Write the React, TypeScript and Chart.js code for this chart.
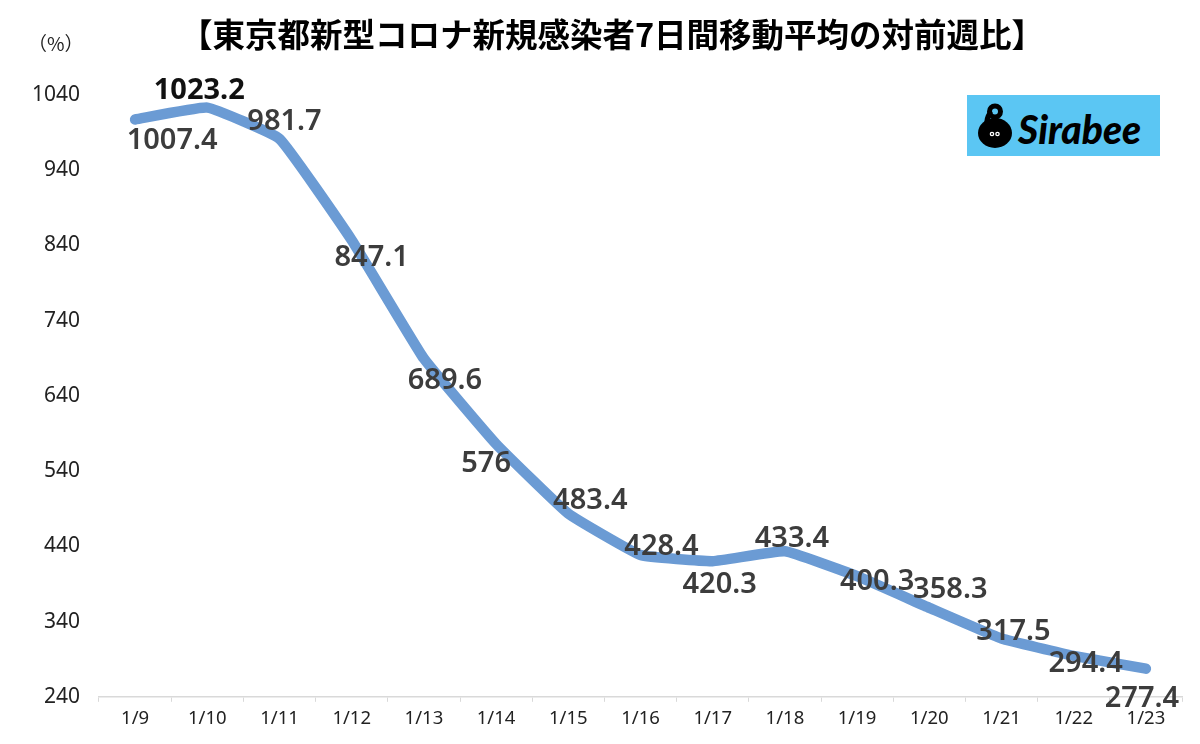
import React, { useEffect, useRef } from "react";
import { Chart, registerables } from "chart.js";

Chart.register(...registerables);

const categories = ["1/9", "1/10", "1/11", "1/12", "1/13", "1/14", "1/15", "1/16", "1/17", "1/18", "1/19", "1/20", "1/21", "1/22", "1/23"];
const ratioValues = [1007.4, 1023.2, 981.7, 847.1, 689.6, 576, 483.4, 428.4, 420.3, 433.4, 400.3, 358.3, 317.5, 294.4, 277.4];
const valueLabels = ["1007.4", "1023.2", "981.7", "847.1", "689.6", "576", "483.4", "428.4", "420.3", "433.4", "400.3", "358.3", "317.5", "294.4", "277.4"];
const yTicks = [240, 340, 440, 540, 640, 740, 840, 940, 1040];
const titleText = "【東京都新型コロナ新規感染者7日間移動平均の対前週比】";
const unitText = "（%）";
const logoText = "Sirabee";

// label offsets from each point (px)
const labelDX = [37, -8, 5, 20, 21, -10, 22, 21, 7, 7, 20, 21, 12, 12, -4];
const labelDY = [21, -17, -17, 18, 22, 20, -13, -8, 24, -13, 6, -18, -7, 8, 30];

const labelPlugin = {
  id: "valueLabels",
  afterDatasetsDraw(chart: any) {
    const ctx = chart.ctx;
    const meta = chart.getDatasetMeta(0);
    ctx.save();
    ctx.textAlign = "center";
    ctx.textBaseline = "middle";
    meta.data.forEach((pt: any, i: number) => {
      const bold = i === 1;
      ctx.font = (bold ? "700 " : "600 ") + "29px 'Noto Sans', 'Liberation Sans', sans-serif";
      ctx.fillStyle = bold ? "#111111" : "#3c3c3c";
      ctx.fillText(valueLabels[i], pt.x + labelDX[i], pt.y + labelDY[i]);
    });
    ctx.restore();
  },
};

export default function App() {
  const ref = useRef<HTMLCanvasElement>(null);
  useEffect(() => {
    document.body.style.margin = "0";
    const chart = new Chart(ref.current!, {
      type: "line",
      data: {
        labels: categories,
        datasets: [
          {
            data: ratioValues,
            borderColor: "#6b9bd4",
            borderWidth: 10.5,
            pointRadius: 0,
            tension: 0.1,
            borderCapStyle: "round",
            borderJoinStyle: "round",
            fill: false,
          },
        ],
      },
      options: {
        animation: false,
        responsive: false,
        layout: { padding: { left: 0, right: 18, bottom: 8, top: 95 } },
        plugins: {
          legend: { display: false },
          tooltip: { enabled: false },
          title: { display: false },
        },
        scales: {
          x: {
            offset: true,
            grid: {
              display: true,
              drawOnChartArea: false,
              offset: true,
              tickLength: 5,
              color: "#d9d9d9",
            },
            border: { color: "#d9d9d9", width: 1.5 },
            ticks: {
              color: "#222222",
              padding: 6,
              maxRotation: 0,
              autoSkip: false,
              font: { size: 18.5, family: "'Noto Sans', 'Liberation Sans', sans-serif" },
            },
          },
          y: {
            min: 240,
            max: 1040,
            afterFit: (s: any) => {
              s.width = 99;
            },
            afterBuildTicks: (s: any) => {
              s.ticks = yTicks.map((v) => ({ value: v }));
            },
            grid: { display: false, drawTicks: false },
            border: { display: false },
            ticks: {
              color: "#222222",
              padding: 19,
              callback: (v: any) => String(v),
              font: { size: 21, family: "'Noto Sans', 'Liberation Sans', sans-serif" },
            },
          },
        },
      },
      plugins: [labelPlugin],
    } as any);
    return () => chart.destroy();
  }, []);

  return (
    <div style={{ position: "fixed", left: 0, top: 0, width: 1200, height: 744, background: "#ffffff", overflow: "hidden" }}>
      <canvas ref={ref} width={1200} height={744} style={{ position: "absolute", left: 0, top: 0 }} />
      <div
        style={{
          position: "absolute",
          left: 12,
          top: 13,
          width: 1200,
          textAlign: "center",
          fontSize: 32.5,
          lineHeight: "40px",
          fontWeight: 700,
          color: "#000",
          fontFamily: "'Noto Sans CJK JP', sans-serif",
          whiteSpace: "nowrap",
        }}
      >
        {titleText}
      </div>
      <div
        style={{
          position: "absolute",
          left: 28,
          top: 32,
          fontSize: 19,
          lineHeight: "22px",
          color: "#222",
          fontFamily: "'Noto Sans CJK JP', sans-serif",
        }}
      >
        {unitText}
      </div>
      <div
        style={{
          position: "absolute",
          left: 967,
          top: 95,
          width: 193,
          height: 61,
          background: "#5bc6f3",
        }}
      >
        <svg width="50" height="61" style={{ position: "absolute", left: 0, top: 0 }}>
          <ellipse cx="28" cy="38" rx="17" ry="15" fill="#000" />
          <circle cx="28" cy="16.5" r="5.5" fill="none" stroke="#000" strokeWidth="5" />
          <path d="M23 18 Q19 24 20 30" fill="none" stroke="#000" strokeWidth="5" strokeLinecap="round" />
          <circle cx="25" cy="39" r="2.3" fill="#fff" />
          <circle cx="30.5" cy="39" r="2.3" fill="#fff" />
          <circle cx="25" cy="39" r="1" fill="#000" />
          <circle cx="30.5" cy="39" r="1" fill="#000" />
        </svg>
        <div
          style={{
            position: "absolute",
            left: 51,
            top: 15,
            fontSize: 39,
            fontWeight: 900,
            fontStyle: "italic",
            color: "#000",
            fontFamily: "'Lato', 'Noto Sans', sans-serif",
            lineHeight: "39px",
            whiteSpace: "nowrap",
          }}
        >
          {logoText}
        </div>
      </div>
    </div>
  );
}
